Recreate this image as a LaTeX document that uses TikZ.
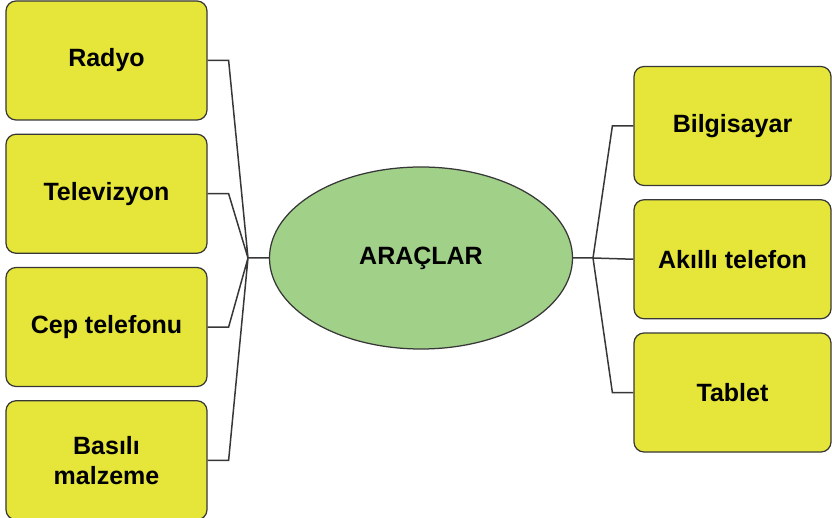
\documentclass[tikz,border=0pt]{standalone}
\usepackage{fontspec}
\setmainfont{Liberation Sans}
\usepackage{tikz}
\usetikzlibrary{positioning,shapes.geometric}
\usepackage{xcolor}
\definecolor{boxyellow}{RGB}{230,230,58}
\definecolor{ovalgreen}{RGB}{161,208,136}
\definecolor{edgegray}{RGB}{55,55,55}

\begin{document}
\begin{tikzpicture}[%
    x=0.4pt,
    y=-0.4pt,
    font=\bfseries,
    node distance=5.2pt,
    item/.style={%
      rectangle,
      rounded corners=4pt,
      minimum width=80.4pt,
      minimum height=47.6pt,
      align=center,
      fill=boxyellow,
      draw=edgegray,
      line width=0.5pt
    },
    hub/.style={%
      ellipse,
      minimum width=121.2pt,
      minimum height=72.8pt,
      fill=ovalgreen,
      draw=edgegray,
      line width=0.5pt
    },
    link/.style={draw=edgegray, line width=0.6pt}
  ]
    \useasboundingbox (0,0) rectangle (832,518);

    \node[hub]  (araclar) at (421,258)                 {ARAÇLAR};

    \node[item] (radyo) at (106.5,60.5)                {Radyo};
    \node[item] (tv) [below=of radyo]                  {Televizyon};
    \node[item] (cep) [below=of tv]                    {Cep telefonu};
    \node[item] (basili) [below=of cep]                {Basılı\\malzeme};

    \node[item, minimum width=78.8pt] (bilgisayar) at (732.5,126) {Bilgisayar};
    \node[item, minimum width=78.8pt] (akilli) [below=of bilgisayar] {Akıllı telefon};
    \node[item, minimum width=78.8pt] (tablet) [below=of akilli]     {Tablet};

    \coordinate (jl) at (248,258);
    \coordinate (jr) at (593,258);

    \path[link] (radyo.east)  -- ++(21,0) -- (jl)
                (tv.east)     -- ++(21,0) -- (jl)
                (cep.east)    -- ++(21,0) -- (jl)
                (basili.east) -- ++(21,0) -- (jl)
                (jl) -- (araclar.west);
    \path[link] (araclar.east) -- (jr) -- (akilli.west)
                (bilgisayar.west) -- ++(-21,0) -- (jr)
                (tablet.west)     -- ++(-21,0) -- (jr);
  \end{tikzpicture}
\end{document}
